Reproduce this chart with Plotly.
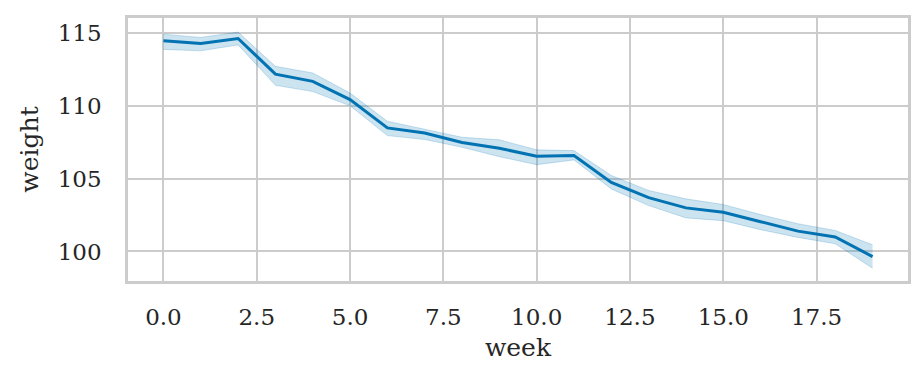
import plotly.graph_objects as go

week = list(range(20))
weight_mean = [114.5, 114.3, 114.65, 112.2, 111.7, 110.45, 108.5, 108.15, 107.5, 107.1,
               106.55, 106.6, 104.75, 103.7, 103.0, 102.7, 102.05, 101.4, 101.0, 99.65]
weight_upper = [114.95, 114.72, 115.09, 112.74, 112.28, 110.9, 108.96, 108.4, 107.86, 107.68,
                106.99, 106.94, 105.23, 104.2, 103.62, 103.23, 102.54, 101.91, 101.45, 100.46]
weight_lower = [113.9, 113.8, 114.21, 111.43, 111.0, 110.02, 107.97, 107.7, 107.17, 106.52,
                105.97, 106.3, 104.3, 103.16, 102.31, 102.12, 101.5, 100.97, 100.53, 98.85]

blue = "#0173b2"
band = "rgba(1,115,178,0.2)"
txt = "#262626"
grid = "#cccccc"

fig = go.Figure()
fig.add_trace(go.Scatter(x=week, y=weight_upper, mode="lines",
                         line=dict(color=band, width=1), showlegend=False, hoverinfo="skip"))
fig.add_trace(go.Scatter(x=week, y=weight_lower, mode="lines", fill="tonexty",
                         fillcolor=band, line=dict(color=band, width=1),
                         showlegend=False, hoverinfo="skip"))
fig.add_trace(go.Scatter(x=week, y=weight_mean, mode="lines",
                         line=dict(color=blue, width=3), showlegend=False))

fig.update_layout(
    width=923, height=385,
    margin=dict(l=128, r=15, t=18, b=104),
    paper_bgcolor="white", plot_bgcolor="white",
    font=dict(family="DejaVu Serif", size=23, color=txt),
)
fig.update_xaxes(
    range=[-0.95, 19.95], tick0=0, dtick=2.5, tickformat=".1f",
    showgrid=True, gridcolor=grid, gridwidth=2, zeroline=False,
    showline=True, linecolor=grid, linewidth=2.5, mirror=True,
    ticks="outside", ticklen=14, tickcolor="rgba(0,0,0,0)",
    title=dict(text="week", font=dict(size=25, color=txt), standoff=10),
)
fig.update_yaxes(
    range=[97.97, 116.06], tick0=100, dtick=5,
    showgrid=True, gridcolor=grid, gridwidth=2, zeroline=False,
    showline=True, linecolor=grid, linewidth=2.5, mirror=True,
    ticks="outside", ticklen=19, tickcolor="rgba(0,0,0,0)",
    title=dict(text="weight", font=dict(size=25, color=txt), standoff=12),
)

fig.write_html("out.html", config={"displayModeBar": False},
               post_script="document.body.style.margin='0';")
